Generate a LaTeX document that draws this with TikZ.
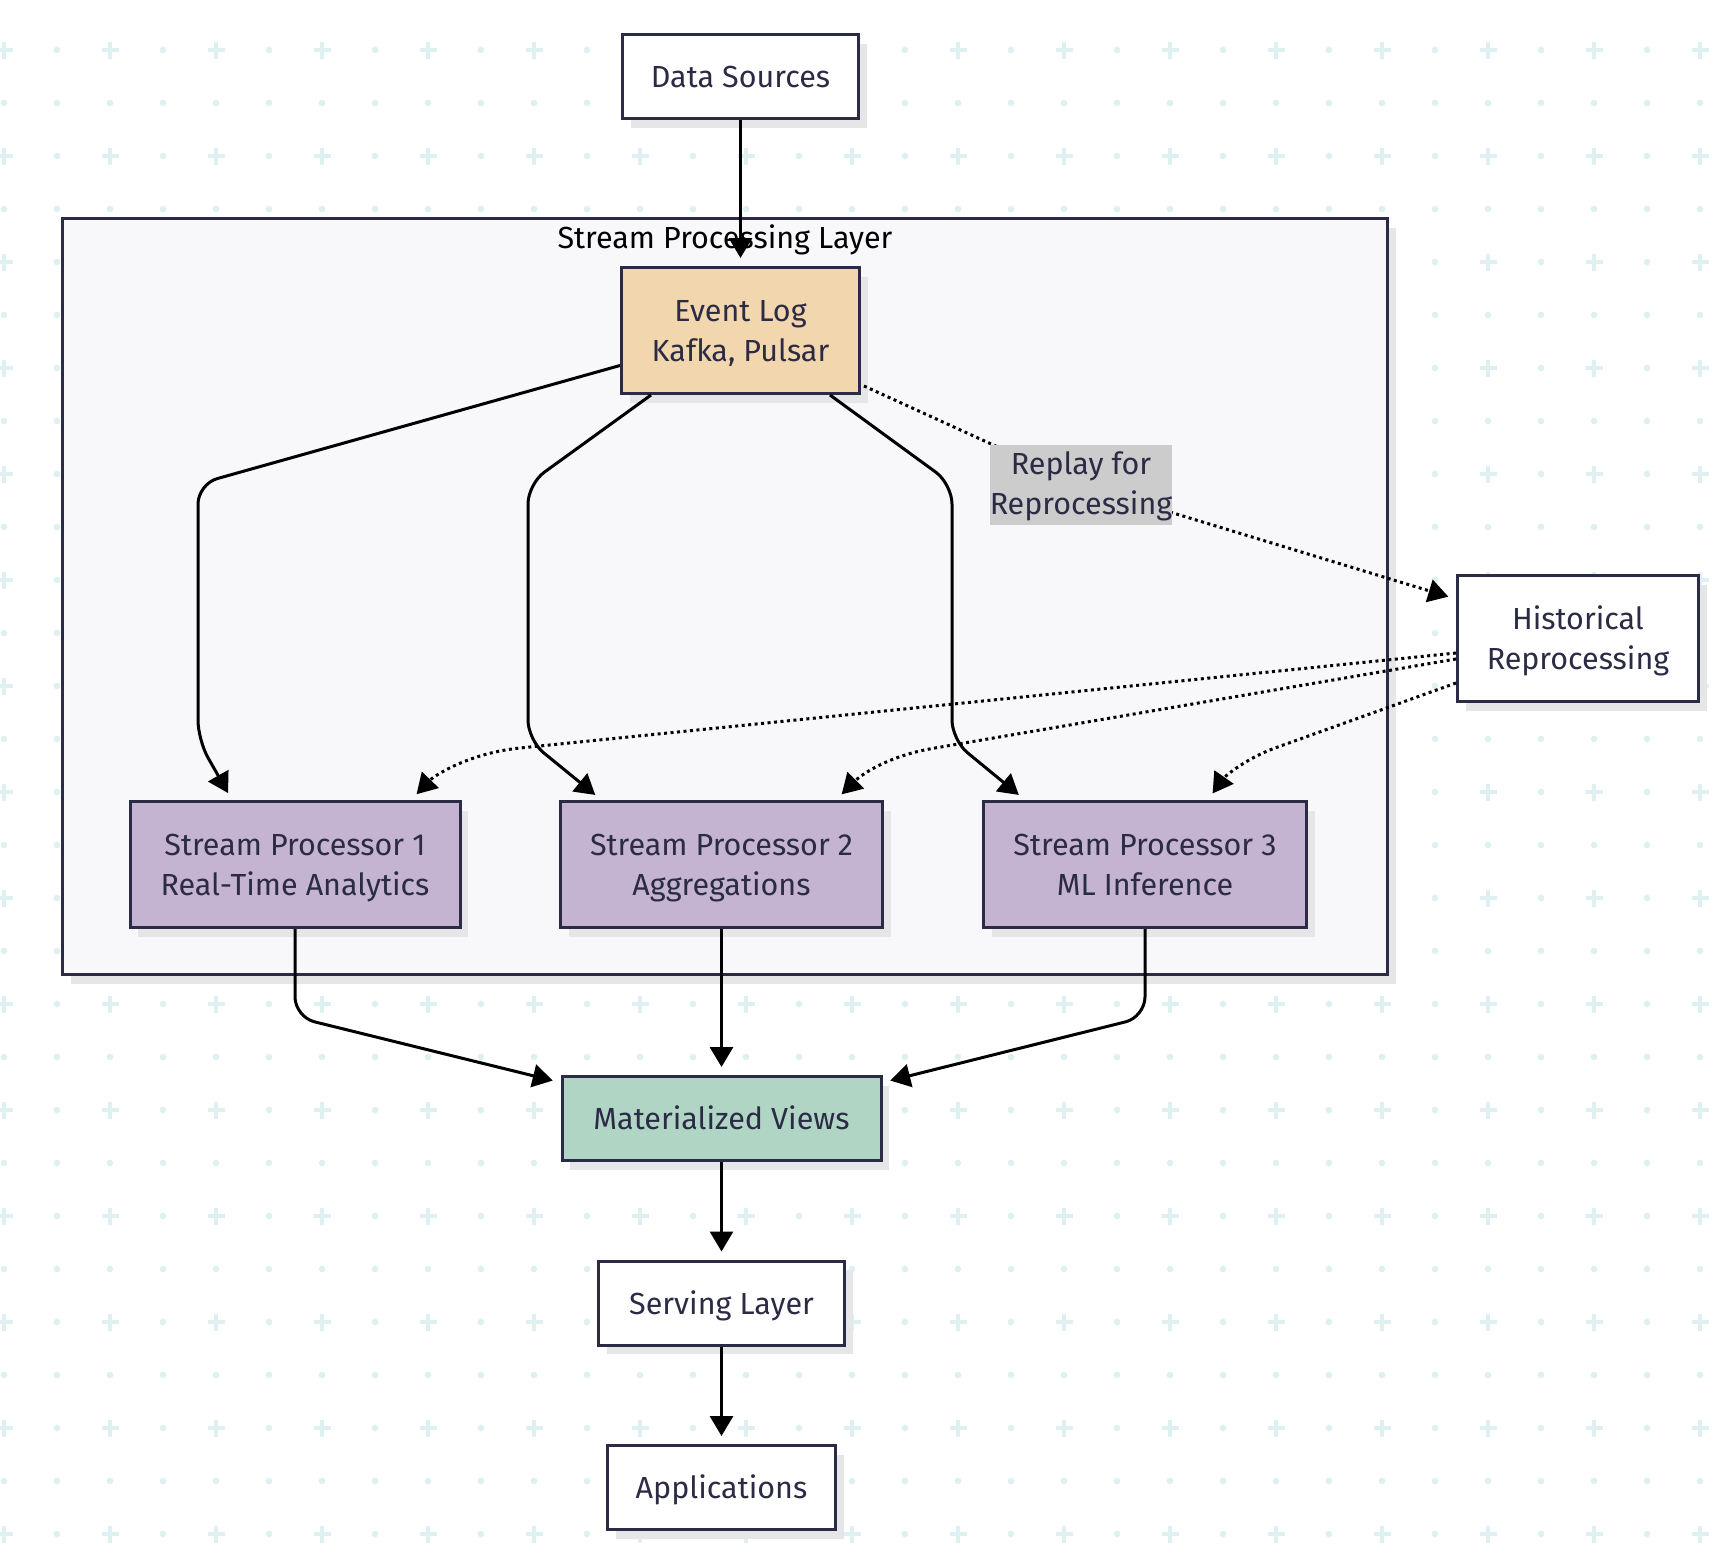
\documentclass[tikz,border=0pt]{standalone}
\usepackage{fontspec}
\setmainfont{Fira Sans}
\usetikzlibrary{arrows.meta,calc}
\definecolor{ink}{HTML}{2B2B45}
\definecolor{patc}{HTML}{DFF0F3}
\definecolor{shadowc}{HTML}{E6E6E9}
\definecolor{clusterfill}{HTML}{F8F8FA}
\definecolor{elfill}{HTML}{F2D7AE}
\definecolor{spfill}{HTML}{C4B4D2}
\definecolor{mvfill}{HTML}{B1D5C5}
\definecolor{lblfill}{HTML}{CCCCCC}
\newcommand\myTopStrut{\rule{0pt}{29pt}}
\newcommand\myLblStrut{\rule{0pt}{25pt}}
\tikzset{
  shadowed/.style={preaction={draw=none, fill=shadowc, transform canvas={xshift=8pt,yshift=-9pt}}},
  box/.style={shadowed, draw=ink, line width=3pt, fill=white, text=ink, inner sep=0pt,
    align=center, font=\fontsize{30.5}{40}\selectfont,
    execute at end node=\vphantom{Ag}},
  conn/.style={draw=black, line width=3pt, rounded corners=20pt,
    -{Triangle[length=20pt,width=23pt]}, shorten >=8pt},
  dotconn/.style={conn, dash pattern=on 3pt off 3.5pt},
}
\begin{document}
\begin{tikzpicture}[x=1pt,y=-1pt]
\useasboundingbox (0,0) rectangle (1714,1558);
\fill[white] (0,0) rectangle (1714,1558);
% background pattern
\foreach \i in {0,...,32}{
  \foreach \j in {0,...,30}{
    \pgfmathsetmacro\px{4+53*\i}
    \pgfmathsetmacro\py{-3+53*\j}
    \pgfmathtruncatemacro\iscross{(mod(\i,2)==0)&&(mod(\j,2)==1)}
    \ifnum\iscross=1
      \draw[patc, line width=4pt] (\px-8.5,\py) -- (\px+8.5,\py) (\px,\py-8.5) -- (\px,\py+8.5);
    \else
      \fill[patc] (\px,\py) circle (3.3pt);
    \fi
  }
}
% cluster
\node[shadowed, draw=ink, line width=3pt, fill=clusterfill, minimum width=1325pt, minimum height=756pt, inner sep=0pt] (cluster) at (725,596.5) {};
\node[font=\fontsize{30.5}{36}\selectfont, text=black] (ctitle) at (725,240) {Stream Processing Layer};
% nodes
\node[box, minimum width=236pt, minimum height=84pt] (ds) at (740.5,76.5) {\myTopStrut Data Sources};
\node[box, fill=elfill, minimum width=238pt, minimum height=126pt] (el) at (740.5,330.5) {\myTopStrut Event Log\\Kafka, Pulsar};
\node[box, minimum width=241pt, minimum height=126pt] (hist) at (1578,638.5) {\myTopStrut Historical\\Reprocessing};
\node[box, fill=spfill, minimum width=330pt, minimum height=126pt] (sp1) at (295,864.5) {\myTopStrut Stream Processor 1\\Real-Time Analytics};
\node[box, fill=spfill, minimum width=322pt, minimum height=126pt] (sp2) at (721.5,864.5) {\myTopStrut Stream Processor 2\\Aggregations};
\node[box, fill=spfill, minimum width=323pt, minimum height=126pt] (sp3) at (1145,864.5) {\myTopStrut Stream Processor 3\\ML Inference};
\node[box, fill=mvfill, minimum width=319pt, minimum height=84pt] (mv) at (721.5,1118.5) {\myTopStrut Materialized Views};
\node[box, minimum width=246pt, minimum height=84pt] (sl) at (721.5,1303) {\myTopStrut Serving Layer};
\node[box, minimum width=228pt, minimum height=84pt] (app) at (721.5,1487.5) {\myTopStrut Applications};
\coordinate (lblc) at (1081,485);
% connectors
\draw[conn] (ds.south) -- (el.north);
\draw[conn] ($(el.west)+(0,35)$) -- (198,484) -- (198,740) -- ($(sp1.north)+(-63,0)$);
\draw[conn] ($(el.south)+(-89.5,0)$) -- (528,484) -- (528,740) -- ($(sp2.north)+(-120,0)$);
\draw[conn] ($(el.south)+(89.5,0)$) -- (952,484) -- (952,740) -- ($(sp3.north)+(-120,0)$);
\draw[dotconn, rounded corners=0pt] ($(el.south east)+(3,-9)$) -- (lblc) -- ($(hist.north west)+(0,25)$);
\draw[dotconn, rounded corners=0pt] ($(hist.west)+(0,14.5)$) -- (520,748) .. controls (470,753) and (435,775) .. ($(sp1.north)+(116,0)$);
\draw[dotconn, rounded corners=0pt] ($(hist.west)+(0,20.5)$) -- (935,748) .. controls (886,756) and (860,776) .. ($(sp2.north)+(114.5,0)$);
\draw[dotconn, rounded corners=0pt] ($(hist.west)+(0,44.5)$) -- (1275,748) .. controls (1240,761) and (1222,780) .. ($(sp3.north)+(63,0)$);
\draw[conn] (sp1.south) -- ($(sp1.south)+(0,88)$) -- ($(mv.west)+(0,-36)$);
\draw[conn] (sp2.south) -- (mv.north);
\draw[conn] (sp3.south) -- ($(sp3.south)+(0,88)$) -- ($(mv.east)+(0,-36)$);
\draw[conn] (mv.south) -- (sl.north);
\draw[conn] (sl.south) -- (app.north);
% edge label
\node[fill=lblfill, text=ink, inner sep=0pt, minimum width=179pt, minimum height=80pt, align=center, font=\fontsize{30.5}{40}\selectfont,
  execute at end node=\vphantom{Ag}] (lbl) at (lblc) {\myLblStrut Replay for\\Reprocessing};
\end{tikzpicture}
\end{document}
